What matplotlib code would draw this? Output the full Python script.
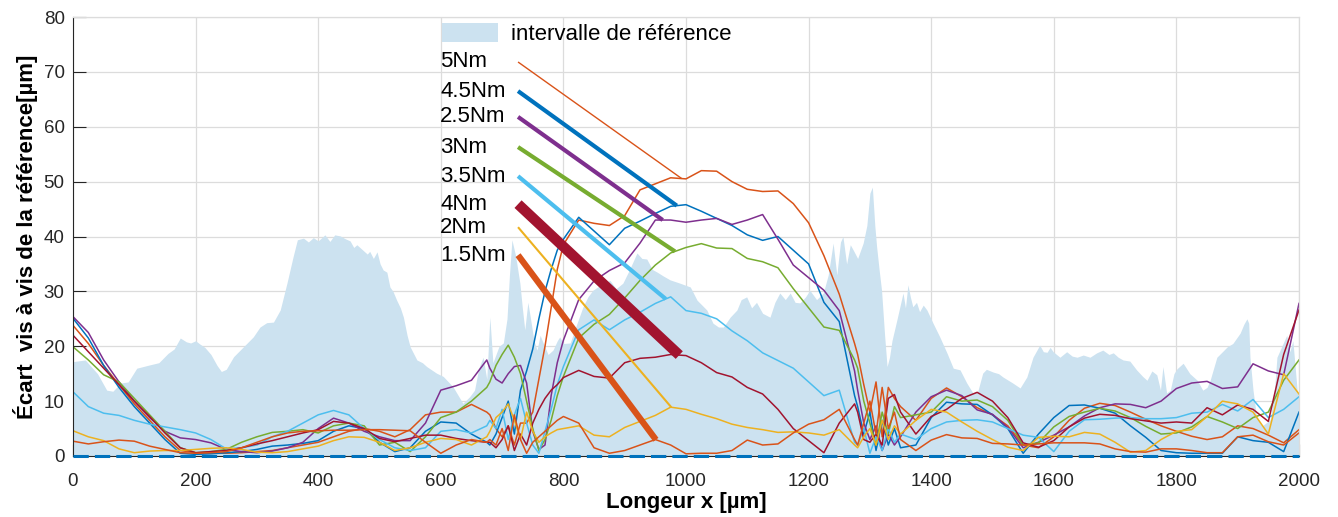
import numpy as np
import matplotlib
matplotlib.use("Agg")
import matplotlib.pyplot as plt

plt.rcParams['font.family'] = ['Liberation Sans', 'DejaVu Sans']

# Sampling positions along the profile (finer where the signal is noisy)
x = np.concatenate([
    np.arange(0, 676, 25),
    np.arange(680, 791, 10),
    np.arange(800, 1276, 25),
    np.arange(1280, 1351, 10),
    np.arange(1375, 2001, 25),
])

# Deviation curves per tightening torque [µm]
dev_5Nm = [23.8, 20.5, 16.5, 13.0, 9.5, 6.5, 3.5, 1.0, 0.6, 0.5, 0.5, 0.6, 0.8, 1.0, 1.5, 2.0, 2.5, 3.5, 4.5, 5.0, 4.5, 3.5, 4.8, 7.5, 8.0, 8.0, 9.4, 8.0,
           7.5, 5.0, 3.5, 5.5, 2.0, 6.0, 6.0, 8.0, 14.0, 20.0, 27.0, 34.0,
           38.5, 43.0, 42.4, 42.0, 43.8, 48.5, 49.6, 50.7, 50.5, 52.0, 51.9, 50.0, 48.6, 48.2, 48.3, 46.0, 42.5, 36.5, 29.5, 20.5,
           18.5, 13.0, 8.0, 13.5, 3.5, 12.5, 10.5, 9.0,
           6.5, 10.5, 12.4, 10.8, 8.8, 7.5, 5.5, 2.0, 1.5, 3.5, 6.5, 8.7, 9.6, 9.2, 8.0, 6.7, 5.5, 4.5, 3.6, 3.0, 3.5, 5.5, 5.0, 3.8, 2.4, 4.8]
dev_4_5Nm = [25.1, 21.5, 16.5, 12.5, 9.0, 6.0, 3.0, 0.5, 0.3, 0.4, 0.6, 0.8, 1.2, 1.8, 2.0, 2.3, 2.8, 4.5, 5.5, 5.0, 2.5, 0.8, 1.5, 4.5, 6.2, 6.0, 4.0, 2.5,
             2.0, 4.0, 7.0, 10.0, 4.0, 12.0, 15.5, 19.5, 25.0, 30.0, 34.0, 37.5,
             39.5, 43.5, 41.0, 38.5, 41.5, 42.8, 44.2, 45.5, 45.8, 44.6, 43.3, 42.0, 40.3, 39.3, 40.0, 37.5, 35.0, 28.0, 24.5, 11.0,
             9.0, 4.0, 8.0, 1.0, 6.5, 2.0, 5.0, 1.5,
             2.0, 7.0, 9.8, 9.5, 9.4, 7.5, 5.0, 0.5, 4.0, 7.0, 9.2, 9.3, 8.7, 7.8, 5.5, 3.4, 1.0, 0.6, 0.5, 0.5, 0.5, 3.5, 2.8, 2.5, 0.8, 8.0]
dev_2_5Nm = [25.4, 22.5, 17.5, 13.5, 10.0, 7.0, 4.5, 3.3, 3.0, 2.4, 1.2, 0.8, 0.6, 0.9, 1.5, 2.5, 5.0, 6.9, 6.0, 4.5, 3.5, 2.8, 2.8, 6.0, 12.0, 12.8, 13.8, 17.5,
             16.0, 14.0, 13.3, 15.0, 16.3, 16.5, 13.3, 4.5, 1.2, 2.0, 11.0, 17.0,
             21.1, 28.5, 31.9, 33.8, 35.2, 38.8, 43.0, 43.0, 42.6, 43.0, 43.3, 42.2, 43.0, 44.0, 39.5, 34.8, 32.5, 30.2, 26.5, 15.5,
             12.0, 6.0, 3.0, 5.5, 1.0, 4.0, 2.0, 3.5,
             8.0, 10.8, 12.0, 11.0, 8.4, 7.6, 5.2, 1.5, 2.5, 3.8, 5.3, 7.3, 8.8, 9.5, 9.4, 8.8, 10.0, 12.3, 13.3, 13.6, 12.3, 12.6, 16.8, 15.5, 14.8, 27.8]
dev_3Nm = [19.9, 17.5, 14.8, 13.5, 10.5, 7.5, 4.5, 1.5, 0.6, 0.8, 1.2, 2.5, 3.5, 4.3, 4.5, 4.8, 4.2, 5.5, 6.0, 5.5, 2.0, 2.5, 0.8, 3.5, 7.0, 8.0, 10.0, 12.5,
           13.5, 16.5, 18.5, 20.2, 18.0, 15.0, 10.0, 5.0, 1.0, 3.0, 6.5, 11.0,
           14.5, 21.5, 24.0, 25.8, 28.8, 32.0, 34.8, 37.0, 38.0, 38.7, 37.9, 37.8, 36.0, 35.4, 34.3, 30.5, 27.0, 23.5, 22.9, 17.5,
           16.0, 10.0, 6.0, 2.0, 8.0, 4.0, 9.0, 7.0,
           7.5, 8.0, 10.8, 10.0, 10.2, 9.0, 6.5, 2.0, 2.4, 5.3, 7.2, 8.0, 8.7, 8.2, 7.0, 5.4, 4.0, 4.2, 5.3, 7.2, 6.2, 5.0, 7.0, 8.0, 13.8, 17.5]
dev_3_5Nm = [11.7, 9.0, 7.8, 7.4, 6.5, 5.8, 5.3, 4.8, 4.2, 3.0, 1.3, 1.5, 2.0, 3.5, 4.5, 6.0, 7.5, 8.3, 7.5, 5.0, 3.0, 1.5, 1.0, 1.5, 4.5, 4.8, 4.2, 5.5,
             6.5, 5.0, 8.5, 3.0, 7.5, 10.5, 6.0, 2.0, 0.5, 4.5, 8.5, 13.0,
             16.3, 23.0, 24.8, 23.0, 24.8, 26.2, 27.8, 29.0, 26.5, 26.0, 25.0, 22.8, 21.0, 18.8, 17.4, 16.0, 13.5, 11.0, 12.0, 2.5,
             2.0, 5.0, 0.5, 3.5, 1.0, 5.0, 2.5, 4.0,
             3.0, 5.0, 6.2, 6.5, 6.6, 6.2, 5.0, 3.8, 3.4, 0.8, 4.5, 6.6, 6.7, 6.9, 7.0, 6.8, 6.8, 7.0, 7.8, 8.0, 9.4, 8.2, 10.3, 7.0, 8.5, 10.8]
dev_4Nm = [22.0, 19.0, 16.0, 13.0, 10.0, 7.2, 4.2, 1.5, 0.6, 0.8, 1.0, 1.5, 2.2, 2.8, 3.5, 4.2, 4.8, 6.3, 6.0, 5.0, 3.2, 2.6, 3.2, 3.8, 3.8, 3.2, 2.8, 2.5,
           2.5, 1.5, 3.0, 5.5, 1.0, 4.0, 2.0, 6.0, 8.5, 10.5, 12.0, 13.0,
           14.3, 15.6, 14.5, 14.2, 17.0, 17.8, 18.0, 18.5, 18.3, 17.0, 15.2, 14.4, 12.5, 11.3, 8.5, 5.0, 2.8, 0.6, 6.0, 9.5,
           8.0, 3.0, 2.5, 4.0, 2.0, 10.5, 11.2, 8.0,
           4.0, 7.2, 8.5, 10.5, 11.6, 10.0, 7.0, 2.4, 1.6, 2.8, 5.3, 6.9, 7.6, 7.4, 6.8, 6.4, 6.0, 6.2, 6.0, 8.8, 7.5, 9.3, 8.5, 6.3, 18.5, 26.6]
dev_2Nm = [4.6, 3.5, 2.8, 1.3, 0.6, 0.9, 1.0, 1.0, 1.2, 1.4, 1.5, 1.2, 0.7, 0.6, 0.8, 1.3, 1.8, 2.8, 3.5, 3.4, 2.5, 1.0, 1.5, 2.5, 3.2, 3.0, 2.0, 3.5,
           4.5, 7.0, 8.0, 9.5, 6.5, 3.0, 8.0, 4.5, 2.5, 3.5, 4.2, 4.8,
           5.0, 5.5, 3.8, 3.5, 5.2, 6.3, 7.4, 8.9, 8.5, 7.6, 6.8, 5.8, 5.2, 4.8, 4.3, 4.4, 4.2, 3.8, 4.8, 2.0,
           1.5, 3.5, 5.0, 2.0, 6.5, 3.0, 5.5, 4.0,
           6.5, 8.5, 8.0, 6.2, 4.5, 3.0, 1.6, 1.0, 3.4, 3.6, 3.5, 4.3, 4.0, 2.5, 0.7, 1.0, 3.0, 4.5, 4.8, 7.2, 10.0, 9.5, 8.0, 4.0, 15.0, 11.3]
dev_1_5Nm = [2.7, 2.2, 2.6, 2.9, 2.7, 1.8, 1.2, 0.6, 0.5, 0.6, 0.8, 1.5, 2.5, 3.5, 4.2, 4.5, 4.6, 4.7, 4.7, 4.8, 4.8, 4.7, 4.6, 2.5, 0.5, 2.0, 3.0, 2.5,
             3.0, 2.0, 5.0, 1.0, 7.5, 3.0, 0.5, 2.5, 3.5, 4.5, 5.5, 6.5,
             7.2, 6.0, 1.5, 0.5, 1.0, 2.0, 3.0, 2.0, 0.4, 0.5, 0.5, 1.0, 2.9, 2.0, 2.2, 4.2, 5.8, 6.6, 8.5, 3.0,
             2.0, 6.0, 10.0, 4.0, 12.5, 5.0, 8.0, 3.0,
             1.0, 2.9, 3.9, 3.3, 3.2, 2.3, 2.2, 2.0, 2.2, 2.4, 2.4, 2.4, 2.2, 1.3, 0.8, 0.7, 1.3, 1.3, 1.0, 0.6, 0.6, 3.5, 3.8, 2.6, 2.0, 4.2]

# Reference interval (upper envelope; lower bound is zero)
ref_x = [0, 20, 40, 55, 65, 78, 90, 104, 125, 140, 155, 165, 175, 185, 192, 200, 207, 215, 225, 235, 242, 250, 262, 278, 294, 305,
         316, 327, 338, 349, 359, 366, 376, 384, 392, 400, 411, 419, 427, 436, 444, 452, 458, 463, 473, 480, 484, 490, 496, 501, 506,
         512, 517, 522, 528, 534, 539, 545, 550, 561, 570, 577, 593, 604, 620, 636, 647, 655, 662, 669, 675, 680, 685, 695, 702, 708,
         712, 716, 722, 729, 733, 737, 742, 746, 752, 757, 762, 767, 775, 783, 790, 794, 800, 811, 820, 832, 840, 848, 856, 865, 876,
         886, 897, 908, 920, 928, 936, 945, 953, 963, 974, 990, 1007, 1018, 1034, 1044, 1053, 1061, 1072, 1083, 1090, 1099, 1107, 1115,
         1125, 1137, 1145, 1153, 1162, 1170, 1178, 1186, 1195, 1202, 1213, 1224, 1232, 1240, 1246, 1252, 1256, 1262, 1268, 1273, 1280,
         1289, 1295, 1300, 1304, 1308, 1311, 1315, 1319, 1324, 1328, 1332, 1336, 1344, 1354, 1358, 1362, 1366, 1370, 1376, 1381, 1387,
         1393, 1403, 1414, 1426, 1436, 1447, 1458, 1468, 1476, 1484, 1490, 1501, 1510, 1517, 1533, 1545, 1556, 1566, 1577, 1583, 1589,
         1594, 1599, 1610, 1621, 1630, 1638, 1648, 1659, 1670, 1680, 1690, 1697, 1705, 1713, 1724, 1735, 1745, 1752, 1760, 1768, 1774,
         1778, 1784, 1790, 1796, 1801, 1811, 1822, 1834, 1843, 1850, 1855, 1866, 1875, 1883, 1892, 1904, 1910, 1915, 1918, 1920, 1925,
         1931, 1940, 1953, 1960, 1964, 1974, 1980, 1985, 1990, 1997, 2000]
ref_upper = [17.2, 17.5, 15.0, 12.0, 11.8, 13.3, 13.5, 16.0, 16.6, 17.0, 18.7, 19.5, 21.5, 20.8, 20.6, 21.0, 20.4, 19.8, 18.5, 16.5,
             15.4, 15.8, 18.1, 19.9, 21.7, 23.5, 24.3, 24.4, 26.6, 31.5, 36.3, 39.4, 39.7, 39.0, 39.8, 39.2, 40.3, 39.1, 40.3, 40.1,
             39.6, 39.2, 38.0, 38.5, 37.5, 36.8, 37.3, 36.0, 37.2, 35.0, 33.9, 33.5, 30.8, 30.0, 28.4, 27.0, 25.3, 22.0, 19.9, 17.5,
             17.0, 16.3, 15.1, 14.5, 12.6, 9.6, 10.8, 12.0, 16.0, 18.0, 14.0, 25.3, 17.0, 20.0, 20.6, 25.0, 33.0, 39.4, 36.5, 31.5,
             27.0, 23.0, 28.0, 25.3, 21.0, 19.3, 22.0, 20.6, 18.5, 19.3, 21.0, 21.7, 20.5, 20.6, 23.5, 27.2, 29.0, 30.2, 30.8, 31.5,
             32.0, 30.5, 31.5, 34.0, 37.0, 36.0, 35.9, 34.0, 33.5, 32.8, 32.1, 31.5, 30.8, 28.4, 26.6, 24.2, 23.5, 23.5, 25.3, 26.6,
             28.5, 29.0, 27.0, 28.0, 26.0, 25.3, 28.0, 29.7, 28.5, 29.7, 28.0, 27.9, 29.0, 30.2, 28.5, 29.7, 33.0, 38.8, 33.0, 39.0,
             40.0, 35.0, 38.5, 37.5, 36.0, 38.8, 42.0, 47.9, 49.0, 42.0, 38.1, 34.0, 30.2, 22.0, 16.3, 18.0, 21.0, 24.8, 29.7, 27.0,
             31.2, 29.0, 27.2, 28.0, 26.3, 27.5, 26.6, 24.2, 21.7, 18.7, 16.0, 15.7, 13.3, 11.5, 11.8, 15.1, 15.8, 15.3, 15.0, 14.4,
             13.3, 12.4, 14.4, 18.0, 20.2, 19.0, 18.9, 19.8, 19.0, 18.0, 19.0, 18.2, 18.0, 18.4, 18.0, 18.8, 19.3, 18.5, 18.8, 18.0,
             17.5, 17.3, 15.7, 14.5, 13.8, 15.5, 14.8, 12.0, 16.3, 11.5, 12.0, 15.0, 15.9, 16.9, 15.0, 13.8, 12.0, 12.5, 13.8, 18.0,
             19.0, 19.9, 20.5, 22.4, 24.0, 25.0, 24.2, 18.0, 12.0, 7.0, 5.5, 6.6, 12.0, 18.0, 20.5, 22.0, 19.0, 21.0, 12.0, 11.0]
ref_lower = [0.0] * len(ref_x)

# Series labels, drawing order, colours and callout styling
labels = ['5Nm', '4.5Nm', '2.5Nm', '3Nm', '3.5Nm', '4Nm', '2Nm', '1.5Nm']
series = [dev_5Nm, dev_4_5Nm, dev_2_5Nm, dev_3Nm, dev_3_5Nm, dev_4Nm, dev_2Nm, dev_1_5Nm]
colors = ['#D95319', '#0072BD', '#7E2F8E', '#77AC30', '#4DBEEE', '#A2142F', '#EDB120', '#D95319']
callout_y = [71.8, 66.5, 61.8, 56.3, 51.0, 45.9, 41.7, 36.6]
callout_x_end = [993, 985, 962, 982, 967, 989, 976, 951]
callout_lw = [1.0, 3.0, 3.0, 3.0, 3.0, 7.5, 1.5, 4.5]
label_x = 599
callout_x_start = 726

fig = plt.figure(figsize=(13.38, 5.17), dpi=100)
ax = fig.add_axes([73 / 1338, 1 - 456 / 517, (1299 - 73) / 1338, (456 - 17) / 517])

fill = ax.fill_between(ref_x, ref_lower, ref_upper, color='#cce2f0', lw=0, zorder=1)

for vals, col in zip(series, colors):
    ax.plot(x, vals, color=col, lw=1.1, zorder=2)

# lower bound of the reference interval, dashed on top of the axis line
ax.plot(ref_x, ref_lower, color='#0072BD', lw=2.2, ls=(0, (5, 2)), zorder=3, clip_on=False)

for lab, vals, col, ty, xe, lw in zip(labels, series, colors, callout_y, callout_x_end, callout_lw):
    ye = np.interp(xe, x, vals)
    ax.plot([callout_x_start, xe], [ty, ye], color=col, lw=lw, solid_capstyle='butt', zorder=3)
    ax.text(label_x, ty, lab, fontsize=16, ha='left', va='center', color='black', zorder=4)

ax.legend([fill], ['intervalle de référence'], loc='upper left', bbox_to_anchor=(0.301, 0.986),
          frameon=False, fontsize=16, handlelength=2.5, handleheight=0.9, handletextpad=0.6,
          borderpad=0, borderaxespad=0)

ax.set_xlim(0, 2000)
ax.set_ylim(0, 80)
ax.set_xticks(np.arange(0, 2001, 200))
ax.set_yticks(np.arange(0, 81, 10))
ax.set_axisbelow(True)
ax.grid(True, color='#dcdcdc', lw=0.9)
ax.tick_params(direction='in', length=9, width=0.8, color='#262626', labelsize=13.5,
               labelcolor='#262626')
ax.tick_params(axis='x', pad=12)
ax.tick_params(axis='y', pad=6)
for side in ['left', 'bottom']:
    ax.spines[side].set_color('#262626')
    ax.spines[side].set_linewidth(0.8)
for side in ['top', 'right']:
    ax.spines[side].set_color('#dcdcdc')
    ax.spines[side].set_linewidth(0.9)

ax.set_xlabel('Longeur x [µm]', fontsize=16, fontweight='bold', labelpad=2)
ax.set_ylabel('Écart  vis à vis de la référence[µm]', fontsize=16, fontweight='bold', labelpad=4)

fig.savefig('out.png', dpi=100)
